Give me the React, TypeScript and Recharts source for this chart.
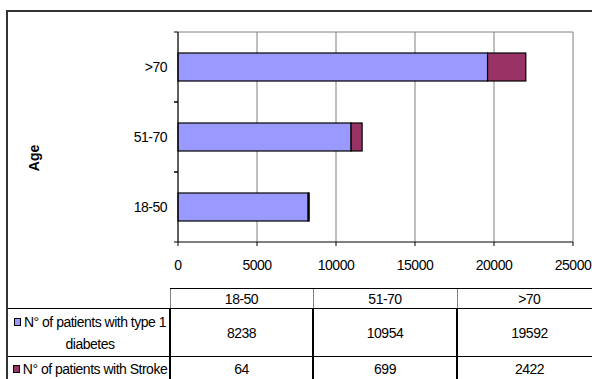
import React from 'react';
import { BarChart, Bar, XAxis, YAxis, CartesianGrid } from 'recharts';

const ageGroups = ['18-50', '51-70', '>70'];
const diabetesPatients = [8238, 10954, 19592];
const strokePatients = [64, 699, 2422];
const xTicks = [0, 5000, 10000, 15000, 20000, 25000];
const seriesNames = ['N° of patients with type 1 diabetes', 'N° of patients with Stroke'];

const BLUE = '#9999FF';
const PLUM = '#993366';
const FONT = '"Liberation Sans", Arial, sans-serif';

const chartData = ageGroups.map((age, i) => ({
    age,
    diabetes: diabetesPatients[i],
    stroke: strokePatients[i],
}));

function AgeTick(props: any) {
    const { x, y, payload } = props;
    const half = payload.offset ?? 35;
    return (
        <g>
            <line x1={x - 4} x2={x} y1={y - half} y2={y - half} stroke="#000" />
            <line x1={x - 4} x2={x} y1={y + half} y2={y + half} stroke="#000" />
            <text x={x - 11} y={y} dy="0.35em" textAnchor="end" fontSize={14} fontFamily={FONT} fill="#000" style={{ letterSpacing: '-0.5px' }}>
                {payload.value}
            </text>
        </g>
    );
}

// outlined bar segment, Excel style
const OutlinedBar = (color: string) => (p: any) => (
    <rect x={p.x} y={p.y} width={Math.max(p.width, 0)} height={p.height} fill={color} stroke="#000" strokeWidth={1.2} />
);

const keyStyle = (color: string): React.CSSProperties => ({
    display: 'inline-block',
    width: 5,
    height: 6,
    background: color,
    border: '1px solid #000',
    marginRight: 3,
    verticalAlign: 'middle',
    position: 'relative',
    top: -1,
});

export default function App() {
    const headCell: React.CSSProperties = {
        borderTop: '1px solid #000',
        borderBottom: '1px solid #000',
        borderLeft: '1px solid #808080',
        textAlign: 'center',
        padding: 0,
        height: 19,
    };
    const bodyCell: React.CSSProperties = {
        borderTop: '1px solid #000',
        borderLeft: '2px solid #000',
        textAlign: 'center',
        padding: 0,
        lineHeight: '22px',
    };
    const labelCell: React.CSSProperties = {
        borderTop: '1px solid #000',
        textAlign: 'center',
        padding: '0 0 0 3px',
        lineHeight: '22px',
    };
    const series = [diabetesPatients, strokePatients];
    const colors = [BLUE, PLUM];
    const rowHeights = [48, 24];

    return (
        <div style={{ position: 'absolute', left: 0, top: 0, width: 592, height: 379, overflow: 'hidden', background: '#fff', fontFamily: FONT, letterSpacing: '-0.5px' }}>
            <div style={{ position: 'absolute', left: 6, top: 10, width: 700, height: 500, borderLeft: '2px solid #333', borderTop: '2px solid #333' }} />
            <div style={{ position: 'absolute', left: 0, top: 0 }}>
                <BarChart width={592} height={280} data={chartData} layout="vertical" margin={{ top: 32, right: 19, bottom: 0, left: 0 }}>
                    <CartesianGrid
                        stroke="#808080"
                        horizontalCoordinatesGenerator={({ offset }: any) => [offset.top]}
                    />
                    <XAxis
                        type="number"
                        domain={[0, 25000]}
                        ticks={xTicks}
                        height={38}
                        tickSize={4}
                        tickMargin={14}
                        axisLine={{ stroke: '#000' }}
                        tickLine={{ stroke: '#000' }}
                        tick={{ fill: '#000', fontSize: 14, fontFamily: FONT, style: { letterSpacing: '-0.5px' } }}
                        interval={0}
                    />
                    <YAxis
                        type="category"
                        dataKey="age"
                        reversed
                        width={178}
                        tickSize={0}
                        tickMargin={0}
                        tickLine={false}
                        axisLine={{ stroke: '#000' }}
                        tick={<AgeTick />}
                    />
                    <Bar dataKey="diabetes" name={seriesNames[0]} stackId="a" fill={BLUE} barSize={28} shape={OutlinedBar(BLUE)} isAnimationActive={false} />
                    <Bar dataKey="stroke" name={seriesNames[1]} stackId="a" fill={PLUM} barSize={28} shape={OutlinedBar(PLUM)} isAnimationActive={false} />
                </BarChart>
            </div>
            <div style={{ position: 'absolute', left: 34, top: 158, transform: 'translate(-50%, -50%) rotate(-90deg)', fontWeight: 'bold', fontSize: 14, letterSpacing: 0 }}>
                Age
            </div>
            <table style={{ position: 'absolute', left: 8, top: 288, borderCollapse: 'collapse', fontSize: 14, tableLayout: 'fixed', width: 593 }}>
                <colgroup>
                    <col style={{ width: 162 }} />
                    <col style={{ width: 143 }} />
                    <col style={{ width: 144 }} />
                    <col style={{ width: 144 }} />
                </colgroup>
                <tbody>
                    <tr>
                        <td style={{ padding: 0 }} />
                        {ageGroups.map((g) => (
                            <td key={g} style={headCell}>{g}</td>
                        ))}
                    </tr>
                    {series.map((vals, r) => (
                        <tr key={r} style={{ height: rowHeights[r] }}>
                            <td style={{ ...labelCell, whiteSpace: r === 1 ? 'nowrap' : 'normal' }}>
                                <span style={keyStyle(colors[r])} />
                                {seriesNames[r]}
                            </td>
                            {vals.map((v, i) => (
                                <td key={i} style={bodyCell}>{v}</td>
                            ))}
                        </tr>
                    ))}
                </tbody>
            </table>
        </div>
    );
}
